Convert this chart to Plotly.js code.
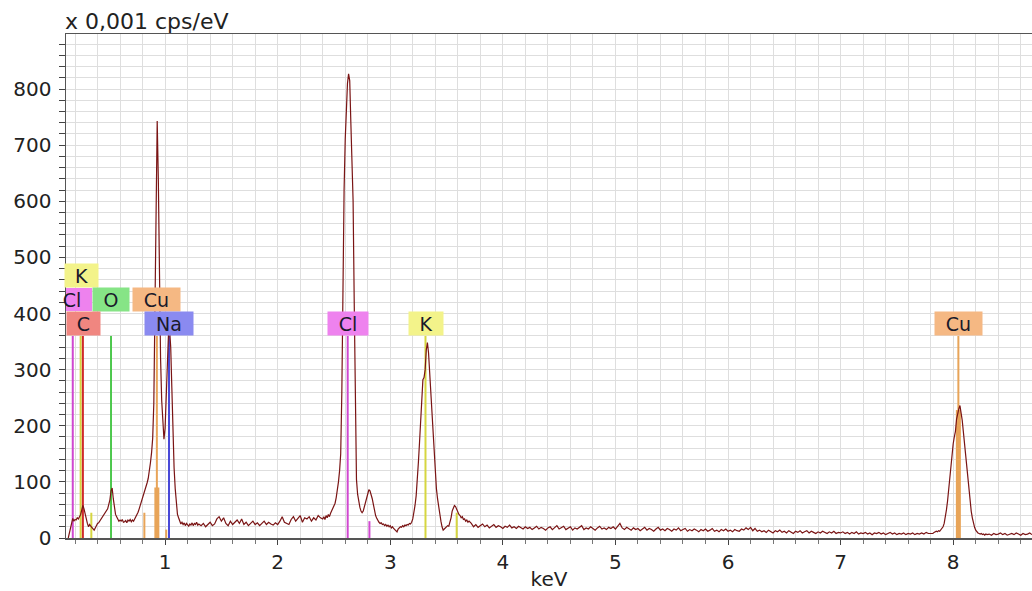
<!DOCTYPE html>
<html>
<head>
<meta charset="utf-8">
<script src="https://cdn.plot.ly/plotly-3.0.1.min.js"></script>
<style>html,body{margin:0;padding:0;background:#fff;}#chart{width:1032px;height:591px;}</style>
</head>
<body>
<div id="chart"></div>
<script>
// ---- Spectrum counts (x 0,001 cps/eV), by energy segment ----
// segment A: 0.14 .. 1.30 keV, channel 0.01 keV
const segA_start = 0.14, segA_step = 0.01;
const segA_counts = [
  0, 8, 20, 28, 35, 30, 33, 32, 36, 34,
  38, 42, 50, 58, 52, 42, 36, 26, 20, 24,
  21, 18, 16, 14, 18, 22, 26, 27, 30, 34,
  36, 39, 41, 44, 48, 52, 60, 68, 84, 89,
  70, 55, 42, 38, 34, 30, 32, 30, 33, 28,
  29, 31, 27, 32, 30, 33, 29, 32, 30, 34,
  36, 40, 46, 52, 58, 66, 72, 78, 86, 92,
  98, 106, 118, 134, 152, 178, 240, 400, 610, 743,
  640, 450, 320, 245, 200, 176, 195, 250, 320, 362,
  372, 340, 268, 190, 125, 88, 58, 42, 36, 30,
  25, 28, 24, 27, 22, 26, 24, 21, 25, 23,
  27, 22, 26, 24, 28, 23, 25
];
// segment B: 1.32 .. 2.38 keV, channel 0.02 keV
const segB_start = 1.32, segB_step = 0.02;
const segB_counts = [
  22, 26, 20, 24, 28, 22, 25, 34, 38, 30,
  36, 26, 22, 30, 24, 28, 32, 26, 34, 24,
  28, 22, 26, 30, 24, 27, 22, 26, 30, 24,
  28, 25, 23, 27, 24, 30, 38, 28, 26, 24,
  33, 38, 30, 36, 40, 28, 36, 34, 38, 30,
  36, 32, 40, 36
];
// segment C: 2.40 .. 3.70 keV, channel 0.01 keV
const segC_start = 2.40, segC_step = 0.01;
const segC_counts = [
  34, 38, 33, 40, 36, 42, 38, 44, 48, 52,
  56, 62, 72, 85, 100, 120, 150, 260, 480, 620,
  710, 770, 810, 827, 815, 740, 660, 600, 420, 190,
  104, 78, 62, 55, 48, 45, 48, 56, 66, 75,
  82, 86, 84, 78, 70, 60, 48, 40, 35, 30,
  28, 26, 27, 24, 25, 22, 24, 21, 23, 20,
  22, 18, 20, 17, 15, 12, 11, 16, 18, 20,
  19, 22, 20, 23, 22, 24, 23, 26, 25, 28,
  34, 45, 58, 75, 100, 135, 170, 215, 260, 282,
  286, 300, 335, 348, 330, 295, 260, 215, 180, 140,
  110, 88, 70, 55, 42, 30, 20, 14, 16, 18,
  20, 22, 21, 28, 36, 48, 55, 58, 56, 50,
  46, 42, 40, 36, 38, 33, 34, 30, 32, 28,
  30
];
// segment D: 3.72 .. 7.78 keV, channel 0.02 keV
const segD_start = 3.72, segD_step = 0.02;
const segD_counts = [
  26, 20, 24, 19, 22, 25, 20, 23, 18, 21,
  24, 19, 22, 20, 17, 21, 19, 23, 18, 20,
  17, 21, 18, 16, 20, 17, 19, 15, 18, 21,
  16, 19, 17, 14, 18, 20, 15, 19, 22, 16,
  18, 21, 15, 17, 20, 14, 18, 16, 19, 22,
  15, 18, 16, 20, 17, 14, 18, 21, 16, 18,
  15, 19, 17, 20, 16, 22, 26, 18, 15, 19,
  16, 14, 18, 15, 17, 13, 16, 19, 14, 17,
  15, 12, 16, 19, 14, 16, 13, 17, 15, 12,
  16, 14, 18, 13, 15, 17, 12, 15, 13, 16,
  14, 11, 15, 13, 16, 12, 14, 17, 12, 14,
  11, 15, 13, 16, 12, 14, 11, 15, 13, 12,
  16, 14, 18, 15, 19, 13, 17, 12, 14, 11,
  13, 10, 14, 12, 9, 13, 11, 14, 10, 12,
  9, 13, 11, 8, 12, 10, 13, 9, 11, 13,
  9, 12, 10, 8, 11, 9, 12, 10, 8, 11,
  9, 12, 8, 10, 9, 11, 8, 10, 7, 10,
  8, 11, 7, 9, 8, 10, 7, 9, 6, 9,
  8, 10, 7, 9, 6, 8, 10, 7, 9, 6,
  8, 7, 9, 6, 8, 7, 9, 6, 8, 7,
  9, 7, 10, 8
];
// segment E: 7.80 .. 8.30 keV, channel 0.01 keV
const segE_start = 7.80, segE_step = 0.01;
const segE_counts = [
  8, 9, 8, 10, 11, 12, 11, 13, 12, 15,
  17, 20, 26, 36, 50, 66, 88, 112, 135, 155,
  168, 180, 190, 212, 224, 230, 236, 225, 210, 190,
  170, 150, 128, 105, 80, 62, 48, 36, 26, 19,
  14, 11, 9, 8, 7, 8, 6, 7, 5, 7,
  6
];
// segment F: 8.32 .. 8.70 keV, channel 0.02 keV
const segF_start = 8.32, segF_step = 0.02;
const segF_counts = [7, 5, 8, 6, 7, 9, 6, 8, 5, 7, 8, 6, 9, 7, 5, 8, 6, 7, 9, 6];

// ---- Element line markers ----
const markerEnergies = [0.18, 0.25, 0.27, 0.345, 0.52, 0.816, 0.927, 1.01, 1.035, 2.622, 2.815, 3.313, 3.59, 8.046];
const markerHeights  = [360, 360, 360, 45, 360, 45, 360, 15, 360, 360, 30, 360, 45, 360];
const markerElements = ['Cl', 'K', 'C', 'K', 'O', 'Cu', 'Cu', 'Cu', 'Na', 'Cl', 'Cl', 'K', 'K', 'Cu'];
// thick intensity bars on some Cu lines
const barEnergies = [0.927, 8.046];
const barHeights  = [90, 228];

// ---- Element labels ----
const labelTexts    = ['K', 'Cl', 'O', 'Cu', 'C', 'Na', 'Cl', 'K', 'Cu'];
const labelEnergies = [0.26, 0.174, 0.52, 0.923, 0.273, 1.036, 2.628, 3.32, 8.045];
const labelRows     = [468.5, 425, 425, 425, 383, 383, 383, 383, 383];
const labelWidths   = [33, 40, 36, 47, 33, 48, 40, 34, 47];

const elementFill = {K: '#f3f38a', Cl: '#ee82ee', O: '#86e486', Cu: '#f5b883', C: '#f08680', Na: '#8a8af0'};
const elementLine = {K: '#d6d640', Cl: '#d048d0', O: '#4cc84c', Cu: '#e8a458', C: '#d02a2a', Na: '#4a4ad8'};

function channels(start, step, counts) {
  return counts.map((_, i) => +(start + i * step).toFixed(3));
}
const energy = [].concat(
  channels(segA_start, segA_step, segA_counts),
  channels(segB_start, segB_step, segB_counts),
  channels(segC_start, segC_step, segC_counts),
  channels(segD_start, segD_step, segD_counts),
  channels(segE_start, segE_step, segE_counts),
  channels(segF_start, segF_step, segF_counts)
);
const counts = [].concat(segA_counts, segB_counts, segC_counts, segD_counts, segE_counts, segF_counts);

const traces = [];
markerEnergies.forEach((e, i) => {
  traces.push({type: 'scatter', mode: 'lines', x: [e, e], y: [0, markerHeights[i]],
    line: {color: elementLine[markerElements[i]], width: 2}, hoverinfo: 'skip', showlegend: false});
});
barEnergies.forEach((e, i) => {
  traces.push({type: 'scatter', mode: 'lines', x: [e, e], y: [0, barHeights[i]],
    line: {color: elementLine['Cu'], width: 5}, hoverinfo: 'skip', showlegend: false});
});
traces.push({
  type: 'scatter', mode: 'lines', x: energy, y: counts,
  line: {color: '#7a1414', width: 1.2}, hoverinfo: 'x+y', showlegend: false
});

const shapes = [];
const annotations = [];
const fontFam = 'DejaVu Sans, Verdana, sans-serif';
labelTexts.forEach((t, i) => {
  const clipped = (i === 1);
  if (clipped) {
    // box cut by the y axis: drawn as a clipped data-space rectangle
    const halfW = labelWidths[i] / 2 / 112.57;
    shapes.push({type: 'rect', xref: 'x', yref: 'y',
      x0: labelEnergies[i] - halfW, x1: labelEnergies[i] + halfW,
      y0: labelRows[i] - 20.5, y1: labelRows[i] + 20.5,
      fillcolor: elementFill[t], line: {width: 0}, layer: 'above'});
  }
  annotations.push({
    text: t, x: labelEnergies[i], y: labelRows[i], xref: 'x', yref: 'y',
    showarrow: false, xanchor: 'center', yanchor: 'middle',
    width: labelWidths[i], height: 23, borderpad: 0,
    bgcolor: clipped ? 'rgba(0,0,0,0)' : elementFill[t],
    font: {family: fontFam, size: 19, color: '#1a1a2a'}
  });
});
annotations.push({
  text: 'x 0,001 cps/eV', xref: 'paper', yref: 'paper', x: 0, y: 1,
  xanchor: 'left', yanchor: 'bottom', xshift: -3, yshift: -2, showarrow: false,
  font: {family: fontFam, size: 22, color: '#222'}
});

const layout = {
  width: 1032, height: 591,
  margin: {l: 66, r: 0, t: 34, b: 53},
  paper_bgcolor: '#ffffff', plot_bgcolor: '#ffffff',
  showlegend: false,
  font: {family: fontFam, size: 20, color: '#222'},
  xaxis: {
    range: [0.12, 8.70], tick0: 0, dtick: 1,
    ticks: 'outside', ticklen: 5, tickwidth: 1, tickcolor: '#444',
    showgrid: true, gridcolor: '#dedede', gridwidth: 1,
    minor: {dtick: 0.2, tick0: 0, ticks: 'outside', ticklen: 4, tickcolor: '#777', showgrid: true, gridcolor: '#dedede', gridwidth: 1},
    showline: true, linecolor: '#555', linewidth: 1.5, mirror: true,
    zeroline: false,
    tickfont: {family: fontFam, size: 20, color: '#222'},
    title: {text: 'keV', font: {family: fontFam, size: 20, color: '#222'}, standoff: 7}
  },
  yaxis: {
    range: [0, 898], tick0: 0, dtick: 100,
    ticks: 'outside', ticklen: 6, tickwidth: 1, tickcolor: '#444',
    ticklabelstandoff: 3,
    showgrid: true, gridcolor: '#dedede', gridwidth: 1,
    minor: {dtick: 20, ticks: 'outside', ticklen: 6, tickcolor: '#444', showgrid: true, gridcolor: '#dedede', gridwidth: 1},
    showline: true, linecolor: '#555', linewidth: 1.5,
    zeroline: false,
    tickfont: {family: fontFam, size: 20, color: '#222'}
  },
  shapes: shapes,
  annotations: annotations
};

Plotly.newPlot('chart', traces, layout, {displayModeBar: false, staticPlot: true});
</script>
</body>
</html>
